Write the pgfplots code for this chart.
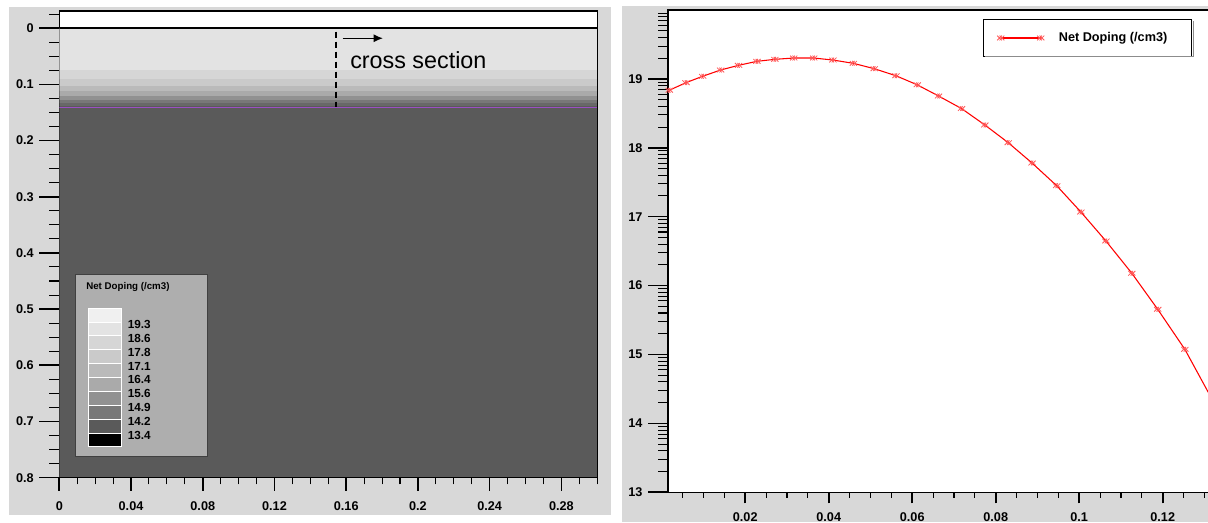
\documentclass[border=0pt]{standalone}
\usepackage{fontspec}
\setmainfont{Liberation Sans}
\usepackage{pgfplots}
\usepackage{pgfplotstable}
\pgfplotsset{compat=1.18}
\usetikzlibrary{arrows.meta}

\definecolor{panel}{HTML}{D8D8D8}
\definecolor{lvA}{HTML}{F0F0F0}
\definecolor{lvB}{HTML}{E3E3E3}
\definecolor{lvC}{HTML}{D6D6D6}
\definecolor{lvD}{HTML}{CACACA}
\definecolor{lvE}{HTML}{BABABA}
\definecolor{lvF}{HTML}{AAAAAA}
\definecolor{lvG}{HTML}{919191}
\definecolor{lvH}{HTML}{787878}
\definecolor{lvHH}{HTML}{686868}
\definecolor{lvI}{HTML}{5A5A5A}
\definecolor{lvJ}{HTML}{000000}
\definecolor{junction}{HTML}{9B4FC3}
\definecolor{keybg}{HTML}{AEAEAE}

% a cross drawn twice, slightly apart
\pgfdeclareplotmark{dblx}{%
  \pgftransformxshift{-0.9pt}\pgfuseplotmark{x}%
  \pgftransformxshift{1.8pt}\pgfuseplotmark{x}}

% net doping along the vertical cut, log10(N / cm^-3) versus depth (um)
\pgfplotstableread{
depth  logN
0.0018 18.835
0.0058 18.945
0.0098 19.038
0.0141 19.129
0.0184 19.197
0.0228 19.255
0.0271 19.284
0.0316 19.303
0.0364 19.303
0.0410 19.274
0.0459 19.226
0.0509 19.148
0.0561 19.046
0.0612 18.914
0.0663 18.752
0.0718 18.570
0.0774 18.331
0.0830 18.074
0.0887 17.779
0.0946 17.450
0.1004 17.068
0.1064 16.647
0.1126 16.179
0.1188 15.656
0.1253 15.075
0.1320 14.330
}\profile

\newcommand{\tickfont}{\bfseries\fontsize{9.5}{11}\selectfont}
% one screen pixel
\def\u{0.75pt}

\begin{document}
\begin{tikzpicture}
\useasboundingbox (0,0) rectangle (1208*\u,-522*\u);
\fill[panel] (9*\u,-6.7*\u) rectangle (611*\u,-514.7*\u);
\fill[panel] (622*\u,-6*\u) rectangle (1208*\u,-522*\u);

% ---------------- doping map ----------------
\begin{axis}[
  at={(59.3*\u,-11*\u)}, anchor=north west, scale only axis,
  width=403.5pt, height=350pt,
  xmin=0, xmax=0.3, ymin=-0.0305, ymax=0.8, y dir=reverse,
  axis background/.style={fill=white},
  axis line style={line width=1pt, black},
  xtick=\empty,
  ytick={0,0.1,0.2,0.3,0.4,0.5,0.6,0.7,0.8},
  yticklabels={0,0.1,0.2,0.3,0.4,0.5,0.6,0.7,0.8},
  minor ytick={-0.025,0.025,0.05,0.075,0.125,0.15,0.175,0.225,0.25,0.275,0.325,0.35,0.375,0.425,0.45,0.475,0.525,0.55,0.575,0.625,0.65,0.675,0.725,0.75,0.775},
  tick align=outside, ytick pos=left,
  major tick length=15pt, minor tick length=7.5pt,
  major tick style={line width=1.2pt, black},
  minor tick style={line width=0.8pt, black},
  yticklabel style={font=\tickfont, inner sep=1pt, xshift=-3pt},
]
\addplot[fill=lvB, draw=none] coordinates {(0,0) (0.3,0) (0.3,0.0737) (0,0.0737)};
\addplot[fill=lvC, draw=none] coordinates {(0,0.0737) (0.3,0.0737) (0.3,0.0902) (0,0.0902)};
\addplot[fill=lvD, draw=none] coordinates {(0,0.0902) (0.3,0.0902) (0.3,0.1021) (0,0.1021)};
\addplot[fill=lvE, draw=none] coordinates {(0,0.1021) (0.3,0.1021) (0.3,0.1116) (0,0.1116)};
\addplot[fill=lvF, draw=none] coordinates {(0,0.1116) (0.3,0.1116) (0.3,0.1205) (0,0.1205)};
\addplot[fill=lvG, draw=none] coordinates {(0,0.1205) (0.3,0.1205) (0.3,0.1276) (0,0.1276)};
\addplot[fill=lvH, draw=none] coordinates {(0,0.1276) (0.3,0.1276) (0.3,0.1335) (0,0.1335)};
\addplot[fill=lvHH, draw=none] coordinates {(0,0.1335) (0.3,0.1335) (0.3,0.1383) (0,0.1383)};
\addplot[fill=lvI, draw=none] coordinates {(0,0.1383) (0.3,0.1383) (0.3,0.8) (0,0.8)};
% metallurgical junction and silicon surface
\addplot[junction, line width=0.8pt] coordinates {(0,0.1406) (0.3,0.1406)};
\addplot[black, line width=1.5pt] coordinates {(0,0) (0.3,0)};
% cut line used for the profile
\draw[line width=1.5pt, dash pattern=on 4.5pt off 3pt] (axis cs:0.1541,0.0062) -- (axis cs:0.1541,0.1397);
\draw[-{Latex[length=7pt,width=6pt]}, line width=1pt] (axis cs:0.158,0.018) -- (axis cs:0.1805,0.018);
\node[anchor=base west, inner sep=0pt, font=\fontsize{17.5}{20}\selectfont] at (axis cs:0.1621,0.0714) {cross section};
\end{axis}

% x ticks of the map
\begin{axis}[
  at={(59.3*\u,-11*\u)}, anchor=north west, scale only axis,
  width=403.5pt, height=350pt,
  xmin=0, xmax=0.3, ymin=0, ymax=1,
  axis x line*=bottom, hide y axis,
  x axis line style={-, line width=1pt, black},
  xtick={0,0.04,0.08,0.12,0.16,0.2,0.24,0.28},
  xticklabels={0,0.04,0.08,0.12,0.16,0.2,0.24,0.28},
  minor xtick={0.01,0.02,0.03,0.05,0.06,0.07,0.09,0.1,0.11,0.13,0.14,0.15,0.17,0.18,0.19,0.21,0.22,0.23,0.25,0.26,0.27,0.29,0.3},
  tick align=outside,
  major tick length=9.75pt, minor tick length=5pt,
  major tick style={line width=1.2pt, black},
  minor tick style={line width=0.8pt, black},
  xticklabel style={font=\tickfont, inner sep=1pt, yshift=-7pt},
]
\end{axis}

% colour key of the map
\fill[keybg] (75*\u,-274*\u) rectangle (207.7*\u,-456.7*\u);
\draw[black!75, line width=0.6pt] (75*\u,-274*\u) rectangle (207.7*\u,-456.7*\u);
\node[anchor=west, inner sep=0pt, font=\bfseries\fontsize{7.3}{8}\selectfont] at (86*\u,-286.7*\u) {Net Doping (/cm3)};
\foreach \c [count=\i from 0] in {lvA,lvB,lvC,lvD,lvE,lvF,lvG,lvH,lvI,lvJ}{
  \fill[\c, draw=white, line width=0.5pt] (88.3*\u,{-(308+13.87*\i)*\u}) rectangle (121*\u,{-(308+13.87*(\i+1))*\u});
}
\foreach \v [count=\i from 1] in {19.3,18.6,17.8,17.1,16.4,15.6,14.9,14.2,13.4}{
  \node[anchor=west, inner sep=0pt, font=\bfseries\fontsize{8.8}{10}\selectfont] at (127.5*\u,{-(308+13.87*\i+2.5)*\u}) {\v};
}

% ---------------- profile along the cut ----------------
\begin{axis}[
  at={(668*\u,-10*\u)}, anchor=north west, scale only axis,
  width=422.7pt, height=361.7pt,
  xmin=0.0015, xmax=0.1365, ymin=13, ymax=20,
  axis background/.style={fill=white},
  axis line style={line width=1pt, black},
  xtick=\empty,
  ytick={13,14,15,16,17,18,19},
  yticklabels={13,14,15,16,17,18,19},
  minor ytick={13.301,13.477,13.602,13.699,13.778,13.845,13.903,13.954,
               14.301,14.477,14.602,14.699,14.778,14.845,14.903,14.954,
               15.301,15.477,15.602,15.699,15.778,15.845,15.903,15.954,
               16.301,16.477,16.602,16.699,16.778,16.845,16.903,16.954,
               17.301,17.477,17.602,17.699,17.778,17.845,17.903,17.954,
               18.301,18.477,18.602,18.699,18.778,18.845,18.903,18.954,
               19.301,19.477,19.602,19.699,19.778,19.845,19.903,19.954},
  tick align=outside, ytick pos=left,
  major tick length=15pt, minor tick length=7.5pt,
  major tick style={line width=1.2pt, black},
  minor tick style={line width=0.8pt, black},
  yticklabel style={font=\tickfont, inner sep=1pt, xshift=-3pt},
  legend style={at={(0.9292,0.9807)}, anchor=north east, draw=black,
    line width=0.6pt, fill=white, font=\tickfont,
    inner xsep=10pt, inner ysep=7.5pt,
    /tikz/every odd column/.append style={column sep=9pt}},
  legend image code/.code={\draw[mark repeat=1, mark phase=1, #1] plot coordinates {(0pt,0pt) (30pt,0pt)};},
]
\addplot[red, line width=0.8pt, mark=dblx, mark size=2.5pt,
  mark options={red!65, line width=0.6pt}] table[x=depth, y=logN] {\profile};
\addlegendentry{Net Doping (/cm3)\hspace*{6pt}}
\end{axis}
% shade along the lower and right sides of the key box
\draw[black!45, line width=1.2pt] (1193.6*\u,-21*\u) -- (1193.6*\u,-56.6*\u) -- (985*\u,-56.6*\u);

% x ticks of the profile
\begin{axis}[
  at={(668*\u,-10*\u)}, anchor=north west, scale only axis,
  width=422.7pt, height=361.7pt,
  xmin=0.0015, xmax=0.1365, ymin=0, ymax=1,
  axis x line*=bottom, hide y axis,
  x axis line style={-, line width=1pt, black},
  xtick={0.02,0.04,0.06,0.08,0.1,0.12},
  xticklabels={0.02,0.04,0.06,0.08,0.1,0.12},
  minor xtick={0.005,0.01,0.015,0.025,0.03,0.035,0.045,0.05,0.055,0.065,0.07,0.075,0.085,0.09,0.095,0.105,0.11,0.115,0.125,0.13,0.135},
  tick align=outside,
  major tick length=8.25pt, minor tick length=4pt,
  major tick style={line width=1.2pt, black},
  minor tick style={line width=0.8pt, black},
  xticklabel style={font=\tickfont, inner sep=1pt, yshift=-5.5pt},
]
\end{axis}
\end{tikzpicture}
\end{document}
